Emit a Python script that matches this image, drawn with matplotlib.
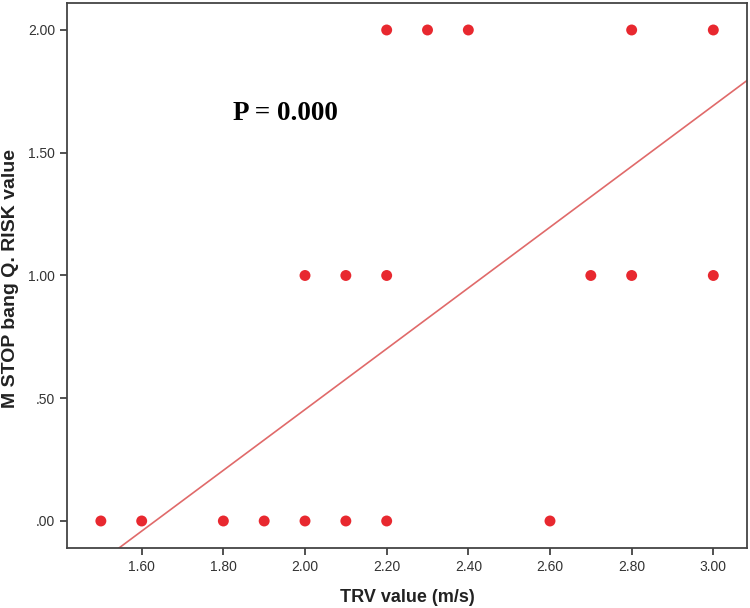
import numpy as np
from matplotlib import pyplot as plt

# TRV value (m/s) vs M STOP bang Q. RISK value
trv_values = [1.5, 1.6, 1.8, 1.9, 2.0, 2.1, 2.2, 2.6,
              2.0, 2.1, 2.2, 2.7, 2.8, 3.0,
              2.2, 2.3, 2.4, 2.8, 3.0]
risk_values = [0, 0, 0, 0, 0, 0, 0, 0,
               1, 1, 1, 1, 1, 1,
               2, 2, 2, 2, 2]

# fit line
fit_slope = 1.238
fit_intercept = -2.022

x_ticks = [1.6, 1.8, 2.0, 2.2, 2.4, 2.6, 2.8, 3.0]
x_tick_labels = ["1.60", "1.80", "2.00", "2.20", "2.40", "2.60", "2.80", "3.00"]
y_ticks = [0.0, 0.5, 1.0, 1.5, 2.0]
y_tick_labels = [".00", ".50", "1.00", "1.50", "2.00"]

plt.rcParams['font.family'] = ['Liberation Sans', 'DejaVu Sans']

fig = plt.figure(figsize=(7.5, 6.08), dpi=100)
ax = fig.add_axes([0.0893, 0.0987, 0.9067, 0.8964])

xlim = (1.417, 3.0825)
ylim = (-0.11, 2.11)

xs = np.array(xlim)
ax.plot(xs, fit_slope * xs + fit_intercept, color='#e06a6a', linewidth=1.2, zorder=2)
ax.scatter(trv_values, risk_values, s=62, color='#e8282f', edgecolors='none', zorder=3)

ax.set_xlim(*xlim)
ax.set_ylim(*ylim)
ax.set_xticks(x_ticks)
ax.set_xticklabels(x_tick_labels)
ax.set_yticks(y_ticks)
ax.set_yticklabels(y_tick_labels)
ax.tick_params(direction='out', length=5, width=1.2, color='#333333',
               labelsize=10, labelcolor='#333333')

for sp in ax.spines.values():
    sp.set_color('#444444')
    sp.set_linewidth(1.3)

ax.set_xlabel("TRV value (m/s)", fontsize=13, fontweight='bold', color='#222222',
              ha='center', va='center')
ax.set_ylabel("M STOP bang Q. RISK value", fontsize=14, fontweight='bold', color='#222222',
              ha='center', va='center')
ax.xaxis.set_label_coords(0.5, -0.09)
ax.yaxis.set_label_coords(-0.083, 0.495)

ax.text(0.244, 0.798, "P = 0.000", transform=ax.transAxes, fontsize=19.5, fontweight='bold',
        family=['Liberation Serif', 'DejaVu Serif'], color='black', va='center')

fig.savefig("out.png", dpi=100)
